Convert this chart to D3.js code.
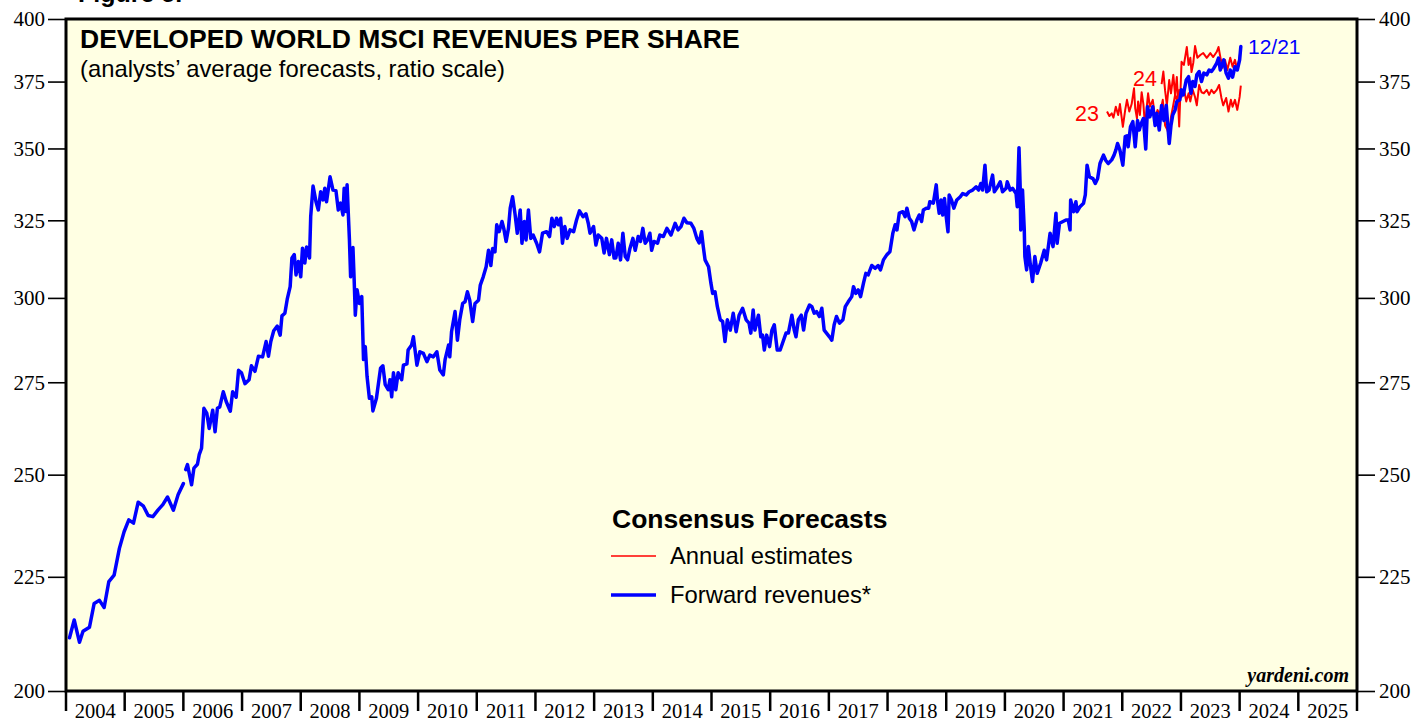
<!DOCTYPE html>
<html>
<head>
<meta charset="utf-8">
<script src="https://cdn.jsdelivr.net/npm/d3@7"></script>
<style>
  html, body { margin: 0; padding: 0; background: #fff; }
  svg { display: block; }
</style>
</head>
<body>
<div id="chart"></div>
<script>
// Developed World MSCI revenues per share (forward + annual estimates), ratio scale

const yearTicks = [2004, 2005, 2006, 2007, 2008, 2009, 2010, 2011, 2012, 2013, 2014,
  2015, 2016, 2017, 2018, 2019, 2020, 2021, 2022, 2023, 2024, 2025];
const valueTicks = [200, 225, 250, 275, 300, 325, 350, 375, 400];

// forward revenues, monthly part (2004-2005)
const earlyYears = [2004.06, 2004.14, 2004.23, 2004.29, 2004.40, 2004.48, 2004.57, 2004.65,
  2004.73, 2004.82, 2004.91, 2004.99, 2005.07, 2005.15, 2005.23, 2005.32, 2005.40, 2005.48,
  2005.57, 2005.65, 2005.73, 2005.83, 2005.91, 2006.00];
const earlyRevenue = [211.3, 215.2, 210.3, 212.7, 213.6, 218.9, 219.6, 218.0,
  223.9, 225.4, 231.7, 235.7, 238.6, 237.8, 243.0, 242.0, 239.7, 239.4,
  241.1, 242.4, 244.3, 241.0, 244.9, 247.7];

// forward revenues, weekly part (2006 onward)
const fwdYears = [
  2006.04, 2006.07, 2006.14, 2006.18, 2006.24, 2006.27, 2006.31, 2006.35, 2006.40, 2006.44,
  2006.50, 2006.54, 2006.58, 2006.62, 2006.68, 2006.73, 2006.80, 2006.84, 2006.90, 2006.94,
  2006.99, 2007.05, 2007.12, 2007.16, 2007.22, 2007.28, 2007.35, 2007.41, 2007.45, 2007.49,
  2007.54, 2007.60, 2007.65, 2007.68, 2007.73, 2007.77, 2007.82, 2007.85, 2007.89, 2007.92,
  2007.96, 2008.00, 2008.03, 2008.07, 2008.10, 2008.15, 2008.17, 2008.21, 2008.26, 2008.30,
  2008.34, 2008.38, 2008.41, 2008.44, 2008.50, 2008.55, 2008.60, 2008.64, 2008.68, 2008.72,
  2008.74, 2008.77, 2008.79, 2008.83, 2008.85, 2008.89, 2008.91, 2008.93, 2008.96, 2009.00,
  2009.04, 2009.07, 2009.10, 2009.13, 2009.17, 2009.21, 2009.23, 2009.29, 2009.36, 2009.40,
  2009.44, 2009.49, 2009.52, 2009.55, 2009.58, 2009.62, 2009.66, 2009.72, 2009.75, 2009.81,
  2009.83, 2009.89, 2009.92, 2009.98, 2010.03, 2010.09, 2010.15, 2010.20, 2010.26, 2010.32,
  2010.37, 2010.43, 2010.46, 2010.52, 2010.54, 2010.57, 2010.63, 2010.67, 2010.71, 2010.76,
  2010.80, 2010.84, 2010.88, 2010.93, 2010.97, 2011.03, 2011.06, 2011.11, 2011.16, 2011.20,
  2011.24, 2011.27, 2011.31, 2011.34, 2011.38, 2011.43, 2011.46, 2011.50, 2011.54, 2011.57,
  2011.61, 2011.65, 2011.69, 2011.74, 2011.77, 2011.81, 2011.84, 2011.88, 2011.92, 2011.96,
  2012.02, 2012.07, 2012.12, 2012.19, 2012.24, 2012.28, 2012.32, 2012.36, 2012.39, 2012.43,
  2012.46, 2012.50, 2012.54, 2012.59, 2012.65, 2012.70, 2012.75, 2012.81, 2012.86, 2012.90,
  2012.93, 2012.99, 2013.03, 2013.07, 2013.13, 2013.17, 2013.21, 2013.26, 2013.30, 2013.34,
  2013.37, 2013.41, 2013.45, 2013.49, 2013.53, 2013.57, 2013.61, 2013.66, 2013.70, 2013.75,
  2013.79, 2013.83, 2013.87, 2013.91, 2013.95, 2013.98, 2014.02, 2014.08, 2014.12, 2014.18,
  2014.24, 2014.31, 2014.38, 2014.43, 2014.48, 2014.53, 2014.58, 2014.65, 2014.70, 2014.75,
  2014.79, 2014.83, 2014.86, 2014.89, 2014.95, 2014.99, 2015.02, 2015.06, 2015.10, 2015.15,
  2015.19, 2015.23, 2015.27, 2015.32, 2015.37, 2015.42, 2015.47, 2015.53, 2015.59, 2015.64,
  2015.67, 2015.71, 2015.74, 2015.80, 2015.84, 2015.87, 2015.90, 2015.94, 2015.99, 2016.03,
  2016.07, 2016.10, 2016.12, 2016.17, 2016.21, 2016.27, 2016.31, 2016.37, 2016.41, 2016.44,
  2016.48, 2016.53, 2016.57, 2016.61, 2016.67, 2016.71, 2016.75, 2016.79, 2016.84, 2016.88,
  2016.92, 2016.96, 2017.01, 2017.05, 2017.09, 2017.13, 2017.18, 2017.24, 2017.28, 2017.33,
  2017.39, 2017.42, 2017.46, 2017.50, 2017.54, 2017.59, 2017.63, 2017.67, 2017.73, 2017.79,
  2017.84, 2017.88, 2017.93, 2017.99, 2018.04, 2018.09, 2018.13, 2018.16, 2018.20, 2018.26,
  2018.30, 2018.33, 2018.37, 2018.41, 2018.45, 2018.50, 2018.54, 2018.58, 2018.61, 2018.66,
  2018.70, 2018.72, 2018.78, 2018.83, 2018.85, 2018.88, 2018.91, 2018.94, 2018.97, 2019.00,
  2019.03, 2019.05, 2019.09, 2019.13, 2019.18, 2019.24, 2019.28, 2019.34, 2019.39, 2019.45,
  2019.51, 2019.55, 2019.59, 2019.62, 2019.66, 2019.69, 2019.73, 2019.79, 2019.82, 2019.86,
  2019.92, 2019.96, 2020.02, 2020.04, 2020.09, 2020.13, 2020.19, 2020.21, 2020.24, 2020.26,
  2020.27, 2020.30, 2020.33, 2020.34, 2020.37, 2020.40, 2020.43, 2020.47, 2020.51, 2020.55,
  2020.61, 2020.67, 2020.71, 2020.77, 2020.82, 2020.87, 2020.89, 2020.93, 2020.99, 2021.04,
  2021.08, 2021.11, 2021.12, 2021.17, 2021.21, 2021.23, 2021.28, 2021.34, 2021.37, 2021.40,
  2021.44, 2021.50, 2021.54, 2021.58, 2021.62, 2021.68, 2021.72, 2021.76, 2021.82, 2021.86,
  2021.89, 2021.92, 2021.96, 2022.01, 2022.05, 2022.08, 2022.10, 2022.14, 2022.18, 2022.22,
  2022.26, 2022.29, 2022.31, 2022.36, 2022.40, 2022.43, 2022.47, 2022.52, 2022.56, 2022.59,
  2022.63, 2022.67, 2022.71, 2022.75, 2022.79, 2022.80, 2022.83, 2022.86, 2022.90, 2022.93,
  2022.98, 2023.01, 2023.04, 2023.09, 2023.13, 2023.17, 2023.20, 2023.24, 2023.27, 2023.31,
  2023.35, 2023.39, 2023.44, 2023.48, 2023.52, 2023.56, 2023.61, 2023.64, 2023.67, 2023.69,
  2023.73, 2023.77, 2023.81, 2023.84, 2023.88, 2023.92, 2023.96, 2024.00, 2024.02];
const fwdRevenue = [
  251.3, 252.6, 247.4, 251.7, 252.7, 255.2, 256.9, 267.7, 266.3, 262.2,
  267.2, 261.3, 267.7, 268.1, 272.3, 269.6, 266.9, 272.3, 270.8, 278.4,
  277.7, 274.6, 275.7, 279.7, 278.1, 282.5, 282.3, 286.8, 282.5, 286.8,
  290.0, 291.4, 288.7, 294.5, 295.3, 299.6, 303.5, 312.6, 313.7, 307.2,
  311.5, 306.6, 315.8, 311.0, 316.2, 312.6, 326.2, 336.7, 331.3, 328.5,
  334.7, 331.9, 335.9, 331.3, 339.9, 335.3, 335.1, 328.5, 330.8, 326.8,
  335.9, 328.0, 337.1, 318.5, 306.6, 316.0, 306.0, 294.7, 302.5, 298.3,
  300.4, 281.5, 285.3, 276.7, 270.5, 270.9, 267.0, 270.5, 279.0, 279.7,
  274.3, 272.9, 275.7, 270.9, 277.7, 272.9, 277.7, 275.7, 279.9, 280.3,
  284.3, 285.8, 288.2, 279.9, 283.8, 283.3, 280.9, 282.8, 282.3, 283.8,
  278.5, 277.1, 281.5, 285.8, 282.3, 289.7, 295.8, 287.2, 293.3, 298.3,
  298.8, 301.9, 299.3, 292.8, 298.3, 299.3, 304.0, 306.6, 309.8, 315.1,
  310.2, 315.7, 314.6, 323.5, 321.2, 324.6, 322.3, 318.0, 322.3, 329.1,
  333.0, 327.4, 320.7, 328.5, 317.4, 324.6, 318.5, 328.5, 319.0, 320.1,
  317.4, 314.6, 320.7, 321.2, 319.6, 325.7, 322.9, 325.7, 323.5, 325.7,
  317.4, 322.9, 319.0, 321.8, 321.2, 325.1, 328.2, 326.2, 327.2, 324.0,
  320.7, 322.9, 316.8, 320.1, 319.0, 314.2, 319.0, 313.7, 318.5, 312.6,
  312.6, 317.4, 312.0, 320.7, 313.1, 312.0, 315.7, 319.0, 315.1, 319.6,
  318.0, 322.3, 317.4, 318.5, 320.7, 315.1, 318.0, 317.4, 320.1, 319.6,
  322.3, 320.1, 324.0, 321.8, 322.9, 325.7, 324.2, 324.0, 322.3, 319.0,
  317.5, 321.2, 316.3, 312.0, 309.8, 304.6, 301.4, 301.9, 297.3, 293.3,
  292.8, 286.8, 293.3, 290.2, 295.3, 289.7, 294.7, 296.8, 293.3, 292.3,
  289.3, 296.3, 290.2, 294.7, 288.2, 288.7, 284.3, 288.7, 285.3, 290.2,
  291.8, 287.2, 284.3, 284.3, 286.3, 289.3, 289.3, 294.7, 290.2, 288.2,
  293.3, 294.7, 290.2, 295.3, 297.8, 297.3, 295.3, 295.8, 294.3, 296.8,
  290.2, 289.3, 288.2, 287.2, 291.8, 294.3, 292.3, 293.3, 297.3, 298.8,
  300.4, 303.5, 301.4, 302.5, 300.4, 304.6, 307.7, 307.2, 310.2, 309.3,
  310.2, 308.8, 312.0, 313.7, 314.6, 320.7, 323.5, 321.8, 327.4, 327.9,
  326.2, 329.1, 325.7, 324.6, 321.8, 325.1, 326.8, 324.6, 328.5, 329.1,
  329.1, 331.3, 330.8, 337.1, 331.9, 327.4, 331.9, 326.8, 332.4, 326.2,
  321.2, 333.6, 331.9, 329.1, 331.9, 333.0, 334.1, 333.6, 334.7, 335.3,
  336.4, 335.3, 337.6, 335.3, 344.0, 334.7, 335.3, 340.5, 334.7, 335.9,
  338.2, 334.7, 335.9, 338.2, 335.3, 335.9, 334.1, 329.6, 350.3, 336.4,
  321.8, 335.3, 321.8, 313.1, 308.8, 316.3, 311.0, 305.1, 313.1, 307.7,
  311.0, 315.1, 312.0, 320.7, 316.3, 327.4, 317.4, 324.0, 324.6, 325.1,
  325.1, 321.8, 331.9, 327.9, 331.3, 327.9, 329.6, 330.8, 333.6, 344.0,
  339.9, 339.3, 337.6, 339.3, 344.6, 347.6, 345.7, 344.6, 345.9, 347.6,
  349.4, 351.8, 349.4, 344.0, 354.3, 354.6, 350.6, 357.9, 359.8, 350.6,
  360.2, 356.7, 358.4, 361.0, 349.8, 365.4, 361.6, 365.4, 358.4, 362.9,
  356.7, 365.9, 360.2, 365.9, 354.6, 351.8, 358.4, 362.3, 364.2, 367.4,
  368.0, 371.8, 369.9, 375.6, 376.9, 370.5, 375.0, 373.1, 377.6, 378.9,
  375.0, 378.3, 377.6, 379.5, 378.9, 380.2, 382.2, 384.2, 379.5, 380.8,
  383.5, 378.3, 376.3, 379.5, 376.7, 380.8, 379.5, 383.5, 388.8];

// annual estimates for 2023
const est23Years = [2021.74, 2021.78, 2021.82, 2021.85, 2021.89, 2021.93, 2021.96, 2022.01,
  2022.05, 2022.08, 2022.12, 2022.16, 2022.20, 2022.22, 2022.25, 2022.27, 2022.30, 2022.33,
  2022.36, 2022.39, 2022.42, 2022.44, 2022.47, 2022.52, 2022.56, 2022.60, 2022.64, 2022.69,
  2022.73, 2022.77, 2022.80, 2022.83, 2022.86, 2022.90, 2022.93, 2022.97, 2023.01, 2023.05,
  2023.09, 2023.13, 2023.16, 2023.20, 2023.24, 2023.27, 2023.31, 2023.35, 2023.39, 2023.44,
  2023.48, 2023.52, 2023.56, 2023.61, 2023.65, 2023.69, 2023.72, 2023.77, 2023.81, 2023.85,
  2023.88, 2023.92, 2023.96, 2024.00, 2024.02];
const est23 = [363.6, 361.9, 362.9, 361.3, 365.4, 362.3, 366.4, 357.9,
  364.2, 368.0, 363.6, 366.4, 372.4, 364.9, 361.0, 367.4, 362.3, 370.9,
  366.4, 357.3, 365.9, 370.5, 365.4, 368.0, 361.0, 364.2, 362.3, 368.0,
  358.4, 356.7, 354.3, 361.6, 364.9, 369.9, 368.0, 371.8, 369.1, 372.4,
  367.4, 370.5, 367.4, 371.8, 369.1, 365.9, 373.7, 370.9, 370.5, 371.8,
  369.9, 371.8, 370.5, 371.8, 373.7, 368.7, 365.9, 368.7, 363.6, 368.0,
  365.4, 368.0, 364.2, 369.1, 373.4];

// annual estimates for 2024
const est24Years = [2022.67, 2022.70, 2022.73, 2022.76, 2022.80, 2022.83, 2022.87, 2022.90,
  2022.93, 2022.97, 2023.01, 2023.05, 2023.10, 2023.13, 2023.16, 2023.18, 2023.21, 2023.24,
  2023.28, 2023.33, 2023.38, 2023.44, 2023.50, 2023.55, 2023.61, 2023.64, 2023.68, 2023.71,
  2023.75, 2023.79, 2023.84, 2023.88, 2023.92, 2023.96, 2024.00, 2024.02];
const est24 = [374.0, 378.9, 371.5, 366.0, 375.6, 370.5, 377.6, 369.9,
  376.8, 358.0, 382.7, 381.5, 388.6, 381.5, 384.3, 378.7, 382.3, 389.0,
  384.3, 385.4, 386.2, 384.3, 386.2, 384.6, 386.7, 388.6, 383.5, 380.4,
  383.5, 379.5, 384.3, 380.8, 383.5, 379.5, 384.7, 388.6];

const width = 1416, height = 719;
const plot = { left: 66, right: 1357, top: 19, bottom: 691 };
const sans = '"Liberation Sans", Arial, Helvetica, sans-serif';
const serif = '"Liberation Serif", "Times New Roman", serif';

const svg = d3.select('#chart')
  .append('svg')
  .attr('width', width)
  .attr('height', height);

const x = d3.scaleLinear().domain([2004, 2026]).range([plot.left, plot.right]);
const y = d3.scaleLog().domain([200, 400]).range([plot.bottom, plot.top]);

// plot background
svg.append('rect')
  .attr('x', plot.left).attr('y', plot.top)
  .attr('width', plot.right - plot.left).attr('height', plot.bottom - plot.top)
  .attr('fill', '#ffffe3');

// left and right value axes
const leftAxis = d3.axisLeft(y).tickValues(valueTicks).tickSize(18).tickPadding(3).tickFormat(d3.format('d'));
const rightAxis = d3.axisRight(y).tickValues(valueTicks).tickSize(18).tickPadding(4).tickFormat(d3.format('d'));

[[leftAxis, plot.left], [rightAxis, plot.right]].forEach(([ax, pos]) => {
  const g = svg.append('g').attr('transform', `translate(${pos},0)`).call(ax);
  g.select('.domain').remove();
  g.selectAll('line').attr('stroke', '#000').attr('stroke-width', 1.6);
  g.selectAll('text')
    .attr('font-family', serif)
    .attr('font-size', 21)
    .attr('fill', '#000')
    .attr('dy', '0.33em');
});

// year axis: ticks at year boundaries, labels in the middle
const yearEdges = yearTicks.concat([yearTicks[yearTicks.length - 1] + 1]);
svg.append('g').selectAll('line')
  .data(yearEdges)
  .enter()
  .append('line')
  .attr('x1', d => x(d)).attr('x2', d => x(d))
  .attr('y1', plot.bottom).attr('y2', plot.bottom + 20)
  .attr('stroke', '#000')
  .attr('stroke-width', 2.5);

svg.append('g').selectAll('text')
  .data(yearTicks)
  .enter()
  .append('text')
  .attr('x', d => x(d + 0.5))
  .attr('y', 718)
  .attr('text-anchor', 'middle')
  .attr('font-family', serif)
  .attr('font-size', 20.5)
  .text(d => d);

// series
const line = d3.line()
  .x(d => x(d[0]))
  .y(d => y(d[1]));

svg.append('path')
  .datum(d3.zip(est23Years, est23))
  .attr('d', line)
  .attr('fill', 'none')
  .attr('stroke', '#ff0000')
  .attr('stroke-width', 2)
  .attr('stroke-linejoin', 'round');

svg.append('path')
  .datum(d3.zip(est24Years, est24))
  .attr('d', line)
  .attr('fill', 'none')
  .attr('stroke', '#ff0000')
  .attr('stroke-width', 2)
  .attr('stroke-linejoin', 'round');

[d3.zip(earlyYears, earlyRevenue), d3.zip(fwdYears, fwdRevenue)].forEach(pts => {
  svg.append('path')
    .datum(pts)
    .attr('d', line)
    .attr('fill', 'none')
    .attr('stroke', '#0000ff')
    .attr('stroke-width', 3.5)
    .attr('stroke-linejoin', 'round')
    .attr('stroke-linecap', 'round');
});

// frame
svg.append('rect')
  .attr('x', plot.left).attr('y', plot.top)
  .attr('width', plot.right - plot.left).attr('height', plot.bottom - plot.top)
  .attr('fill', 'none')
  .attr('stroke', '#000')
  .attr('stroke-width', 3);

// texts
svg.append('text')
  .attr('x', 78).attr('y', 2)
  .attr('font-family', sans).attr('font-size', 25).attr('font-weight', 'bold')
  .text('Figure 5.');

svg.append('text')
  .attr('x', 80).attr('y', 48)
  .attr('font-family', sans).attr('font-size', 26.5).attr('font-weight', 'bold')
  .text('DEVELOPED WORLD MSCI REVENUES PER SHARE');

svg.append('text')
  .attr('x', 80).attr('y', 77)
  .attr('font-family', sans).attr('font-size', 23.8)
  .text('(analysts\u2019 average forecasts, ratio scale)');

svg.append('text')
  .attr('x', 1248).attr('y', 54)
  .attr('font-family', sans).attr('font-size', 21)
  .attr('fill', '#0000ff')
  .text('12/21');

svg.append('text')
  .attr('x', 1133).attr('y', 86)
  .attr('font-family', sans).attr('font-size', 21.5)
  .attr('fill', '#ff0000')
  .text('24');

svg.append('text')
  .attr('x', 1075).attr('y', 121)
  .attr('font-family', sans).attr('font-size', 21.5)
  .attr('fill', '#ff0000')
  .text('23');

// legend
const legend = svg.append('g');
legend.append('text')
  .attr('x', 612).attr('y', 528)
  .attr('font-family', sans).attr('font-size', 26.5).attr('font-weight', 'bold')
  .text('Consensus Forecasts');

const legendItems = [
  { label: 'Annual estimates', color: '#ff0000', w: 1.6, y: 556 },
  { label: 'Forward revenues*', color: '#0000ff', w: 3.5, y: 595 }
];
legendItems.forEach(it => {
  legend.append('line')
    .attr('x1', 611).attr('x2', 656)
    .attr('y1', it.y).attr('y2', it.y)
    .attr('stroke', it.color).attr('stroke-width', it.w);
  legend.append('text')
    .attr('x', 670).attr('y', it.y + 8)
    .attr('font-family', sans).attr('font-size', 23.8)
    .text(it.label);
});

svg.append('text')
  .attr('x', 1349).attr('y', 682)
  .attr('text-anchor', 'end')
  .attr('font-family', serif).attr('font-size', 20)
  .attr('font-weight', 'bold').attr('font-style', 'italic')
  .text('yardeni.com');
</script>
</body>
</html>
